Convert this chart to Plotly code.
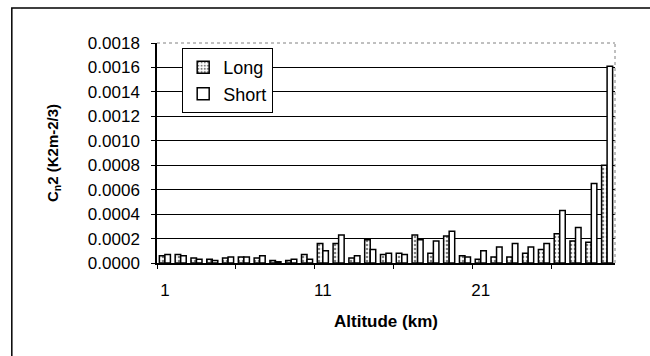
import plotly.graph_objects as go

altitude = list(range(1, 30))
long_vals = [0.00006, 0.00007, 0.00004, 0.00003, 0.00004, 0.00005, 0.00004, 0.00002, 0.00002, 0.00007,
             0.00016, 0.00016, 0.00004, 0.00019, 0.00007, 0.00008, 0.00023, 0.00008, 0.00022, 0.00006,
             0.00003, 0.00005, 0.00005, 0.00008, 0.00011, 0.00024, 0.00018, 0.00017, 0.00080]
short_vals = [0.00007, 0.00006, 0.00003, 0.00002, 0.00005, 0.00005, 0.00006, 0.00001, 0.00003, 0.00003,
              0.00010, 0.00023, 0.00006, 0.00011, 0.00008, 0.00007, 0.00019, 0.00018, 0.00026, 0.00005,
              0.00010, 0.00013, 0.00016, 0.00013, 0.00016, 0.00043, 0.00029, 0.00065, 0.00161]
x_tick_vals = [1, 11, 21]
x_tick_text = ["1", "11", "21"]

FONT = "Arial, 'Liberation Sans', sans-serif"

fig = go.Figure()
fig.add_trace(go.Bar(
    x=altitude, y=long_vals, name="Long",
    marker=dict(color="white", line=dict(color="black", width=1.5),
                pattern=dict(shape=".", fgcolor="black", bgcolor="white", size=4, solidity=0.35)),
))
fig.add_trace(go.Bar(
    x=altitude, y=short_vals, name="Short",
    marker=dict(color="white", line=dict(color="black", width=1.5)),
))

fig.update_layout(
    width=650, height=356,
    margin=dict(l=157, r=35, t=43, b=93),
    paper_bgcolor="white", plot_bgcolor="white",
    barmode="group", bargap=0.3, bargroupgap=0.0,
    font=dict(family=FONT, size=17, color="black"),
    showlegend=True,
    legend=dict(x=0.055, y=0.977, xanchor="left", yanchor="top",
                bordercolor="black", borderwidth=1, bgcolor="white",
                font=dict(size=18), tracegroupgap=6),
    xaxis=dict(range=[0.5, 29.5], tickmode="array", tickvals=x_tick_vals, ticktext=x_tick_text,
               ticks="", showgrid=False, showline=True, linecolor="black", linewidth=1.5,
               zeroline=False, ticklabelstandoff=11, tickfont=dict(size=17),
               minor=dict(tickmode="linear", tick0=0.5, dtick=5, ticks="outside", ticklen=4,
                          tickcolor="black", showgrid=False),
               title=dict(text="<b>Altitude (km)</b>", font=dict(size=17), standoff=16)),
    yaxis=dict(range=[0, 0.0018], dtick=0.0002, tick0=0, tickformat=".4f",
               showgrid=True, gridcolor="black", gridwidth=1,
               showline=True, linecolor="black", linewidth=1.5, zeroline=False,
               ticks="outside", ticklen=4, tickcolor="black", ticklabelstandoff=8,
               tickfont=dict(size=17),
               title=dict(text="<b>C<sub>n</sub>2 (K2m-2/3)</b>", font=dict(size=15), standoff=26)),
)

# dotted plot-area border (top and right)
fig.add_shape(type="line", xref="paper", yref="paper", x0=0, x1=1, y0=1, y1=1,
              line=dict(color="gray", width=1, dash="dot"))
fig.add_shape(type="line", xref="paper", yref="paper", x0=1, x1=1, y0=0, y1=1,
              line=dict(color="gray", width=1, dash="dot"))
# outer chart frame
fig.add_shape(type="rect", xref="paper", yref="paper", x0=-0.317, x1=1.08, y0=-0.5, y1=1.159,
              line=dict(color="black", width=1.5), layer="below")

fig.write_html("out.html")
